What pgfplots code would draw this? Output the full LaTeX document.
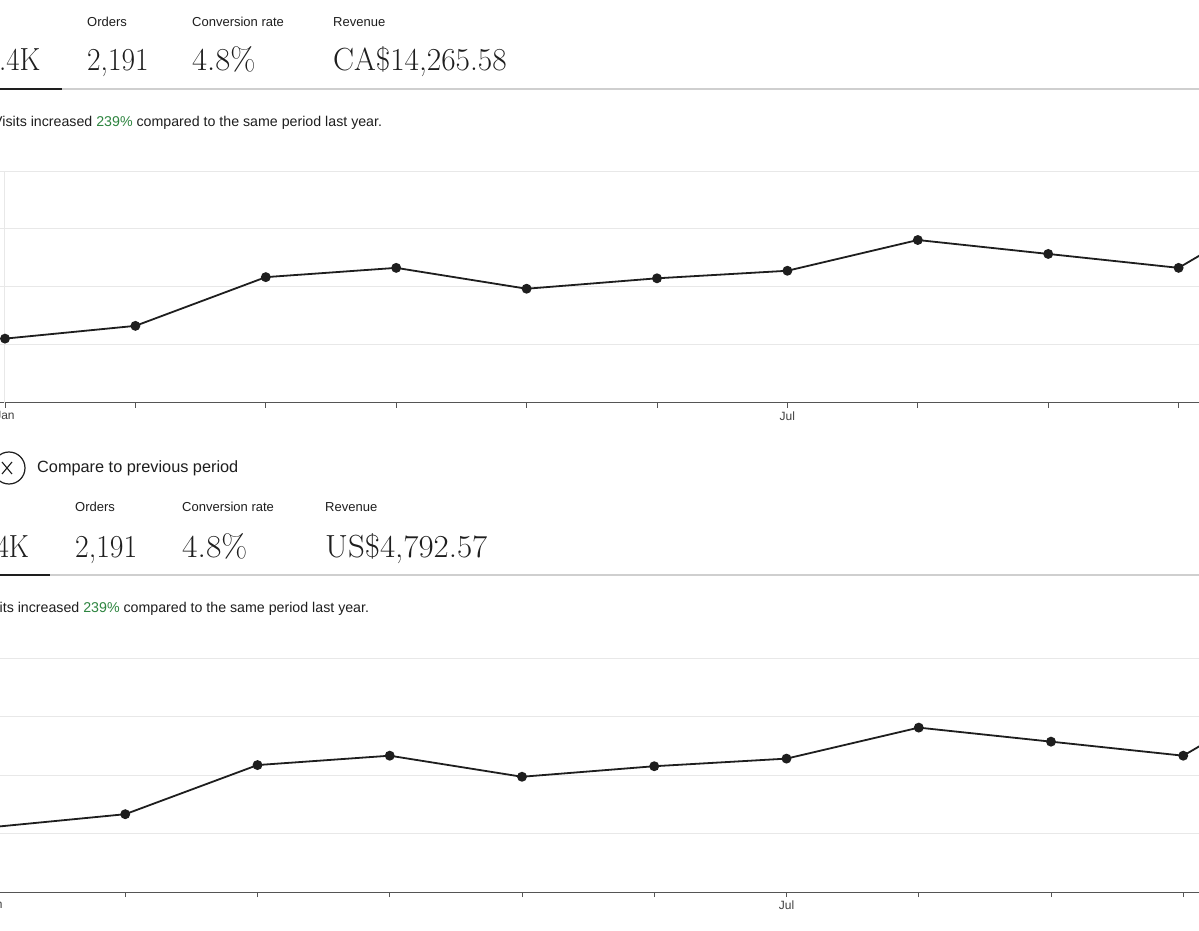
\documentclass[border=0pt]{standalone}
\usepackage{pgfplots}
\pgfplotsset{compat=1.18}
\usepackage{pgfplotstable}
\usepackage{graphicx}
\usepackage{fontspec}
\setsansfont{Liberation Sans}
\definecolor{ink}{HTML}{1E1E1E}
\definecolor{gridc}{HTML}{E8E8E8}
\definecolor{axc}{HTML}{555555}
\definecolor{sep}{HTML}{CFCFCF}
\definecolor{grn}{HTML}{2E8540}

\pgfplotstableread{
m v
0 1.11
1 1.33
2 2.17
3 2.33
4 1.97
5 2.15
6 2.28
7 2.81
8 2.57
9 2.33
10 3.65
}\visits

\pgfplotsset{dash/.style={
  scale only axis, ymin=0, ymax=4, ytick={1,2,3,4}, yticklabels={},
  ymajorgrids, major grid style={gridc, line width=1pt},
  axis x line*=bottom, axis y line*=left,
  y axis line style={draw=none}, ytick style={draw=none},
  x axis line style={axc, line width=1pt, -},
  xtick={0,...,9}, xticklabels={Jan,,,,,,Jul,,,},
  tick align=outside, major tick length=5pt, xtick style={axc, line width=0.8pt},
  tick label style={font=\sffamily\fontsize{12}{14}\selectfont, text=ink!85},
}}

\newcommand{\lbl}[1]{{\sffamily\fontsize{13}{15}\selectfont #1}}
\newcommand{\sent}[1]{{\sffamily\fontsize{14.2}{16}\selectfont #1}}
\newcommand{\bignum}[2]{\scalebox{#1}[1]{\fontsize{32}{38}\selectfont #2}}

\begin{document}
\begin{tikzpicture}[x=1pt,y=1pt]
\path[use as bounding box] (0,0) rectangle (1199,930);
\clip (0,0) rectangle (1199,930);
\fill[white] (0,0) rectangle (1199,930);

% ---------- top header ----------
\node[anchor=west, inner sep=0, text=ink] at (87,908) {\lbl{Orders}};
\node[anchor=west, inner sep=0, text=ink] at (192,908) {\lbl{Conversion rate}};
\node[anchor=west, inner sep=0, text=ink] at (333,908) {\lbl{Revenue}};
\node[anchor=base west, inner sep=0, text=ink] at (-1,859) {\bignum{0.9}{.4K}};
\node[anchor=base west, inner sep=0, text=ink] at (87,859) {\bignum{0.92}{2,191}};
\node[anchor=base west, inner sep=0, text=ink] at (192,859) {\bignum{1.02}{4.8\%}};
\node[anchor=base west, inner sep=0, text=ink] at (333,859) {\bignum{0.98}{CA\$14,265.58}};
\draw[sep, line width=1.3pt] (0,841) -- (1199,841);
\draw[ink, line width=2pt] (0,841) -- (62,841);
\node[anchor=west, inner sep=0, text=ink] at (-7,807) {\sent{Visits increased \textcolor{grn}{239\%} compared to the same period last year.}};

% ---------- chart 1 ----------
\begin{axis}[dash, at={(0pt,527pt)}, anchor=south west, width=1199pt, height=232pt,
  xmin=-0.0383, xmax=9.156]
\draw[gridc, line width=1pt] (axis cs:0,0) -- (axis cs:0,4);
\addplot[ink, line width=1.8pt, mark=*, mark size=4pt, mark options={fill=ink}] table[x=m,y=v] {\visits};
\end{axis}

% ---------- bottom header ----------
\draw[ink, line width=1.2pt] (9,462) circle (16);
\draw[ink, line width=1.1pt] (2,456) -- (12,468) (2,468) -- (12,456);
\node[anchor=west, inner sep=0, text=ink] at (37,462) {\sffamily\fontsize{16.3}{18}\selectfont Compare to previous period};
\node[anchor=west, inner sep=0, text=ink] at (75,423) {\lbl{Orders}};
\node[anchor=west, inner sep=0, text=ink] at (182,423) {\lbl{Conversion rate}};
\node[anchor=west, inner sep=0, text=ink] at (325,423) {\lbl{Revenue}};
\node[anchor=base west, inner sep=0, text=ink] at (-4,373) {\bignum{0.87}{4K}};
\node[anchor=base west, inner sep=0, text=ink] at (75,373) {\bignum{0.93}{2,191}};
\node[anchor=base west, inner sep=0, text=ink] at (182,373) {\bignum{1.05}{4.8\%}};
\node[anchor=base west, inner sep=0, text=ink] at (325,373) {\bignum{1.03}{US\$4,792.57}};
\draw[sep, line width=1.3pt] (0,355) -- (1199,355);
\draw[ink, line width=2pt] (0,355) -- (50,355);
\node[anchor=west, inner sep=0, text=ink] at (-20,321) {\sent{Visits increased \textcolor{grn}{239\%} compared to the same period last year.}};

% ---------- chart 2 ----------
\begin{axis}[dash, at={(-7pt,38pt)}, anchor=south west, width=1206pt, height=234pt,
  xmin=0, xmax=9.119]
\addplot[ink, line width=1.8pt, mark=*, mark size=4pt, mark options={fill=ink}] table[x=m,y=v] {\visits};
\end{axis}
\end{tikzpicture}
\end{document}
